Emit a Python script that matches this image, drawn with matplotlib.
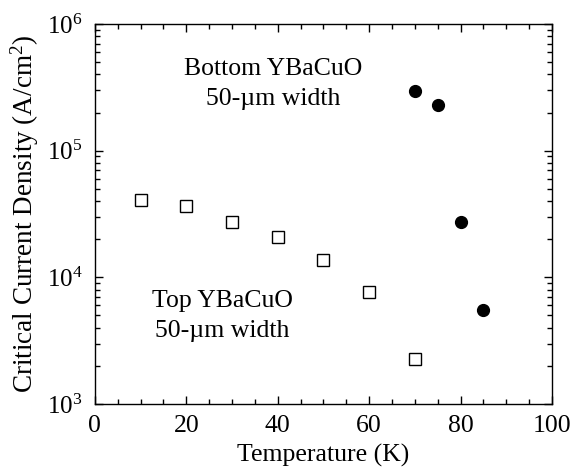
import math
import matplotlib
matplotlib.use("Agg")
import matplotlib.pyplot as plt
from matplotlib.ticker import MultipleLocator, LogLocator, NullFormatter, FuncFormatter

plt.rcParams['font.family'] = 'Liberation Serif'
plt.rcParams['mathtext.fontset'] = 'custom'
plt.rcParams['mathtext.rm'] = 'Liberation Serif'
plt.rcParams['mathtext.it'] = 'Liberation Serif:italic'

# top film (open squares)
temp_top = [10, 20, 30, 40, 50, 60, 70]
jc_top = [4.08e4, 3.66e4, 2.72e4, 2.07e4, 1.36e4, 7.7e3, 2.28e3]

# bottom film (filled circles)
temp_bottom = [70, 75, 80, 85]
jc_bottom = [2.96e5, 2.29e5, 2.72e4, 5.5e3]

fig = plt.figure(figsize=(5.75, 4.70), dpi=100)
ax = fig.add_axes([0.165, 0.1404, 0.795, 0.8086])

ax.plot(temp_top, jc_top, 's', mfc='white', mec='black', mew=1.0, ms=8)
ax.plot(temp_bottom, jc_bottom, 'o', color='black', ms=8.5)

ax.set_yscale('log')
ax.set_xlim(0, 100)
ax.set_ylim(1e3, 1e6)

ax.xaxis.set_major_locator(MultipleLocator(20))
ax.xaxis.set_minor_locator(MultipleLocator(5))
ax.yaxis.set_major_locator(LogLocator(base=10))
ax.yaxis.set_minor_locator(LogLocator(base=10, subs=range(2, 10)))
ax.yaxis.set_minor_formatter(NullFormatter())
ax.yaxis.set_major_formatter(FuncFormatter(lambda v, p: r'$10^{%d}$' % round(math.log10(v))))

ax.tick_params(which='both', direction='in', top=True, right=True)
ax.tick_params(which='major', length=6, width=1)
ax.tick_params(which='minor', length=3.5, width=1)
ax.tick_params(axis='x', labelsize=18.5, pad=8)
ax.tick_params(axis='y', labelsize=18, pad=9)
for s in ax.spines.values():
    s.set_linewidth(1)

ax.set_xlabel('Temperature (K)', fontsize=18.5, labelpad=5)
ax.set_ylabel(r'Critical Current Density (A/cm$^2$)', fontsize=19.5)
ax.yaxis.set_label_coords(-0.118, 0.5)

ax.text(39, 3.36e5, 'Bottom YBaCuO\n50-\u00b5m width', fontsize=18.5,
        ha='center', va='center', linespacing=1.5)
ax.text(27.8, 4.95e3, 'Top YBaCuO\n50-\u00b5m width', fontsize=18.5,
        ha='center', va='center', linespacing=1.5)

fig.savefig('out.png', dpi=100)
